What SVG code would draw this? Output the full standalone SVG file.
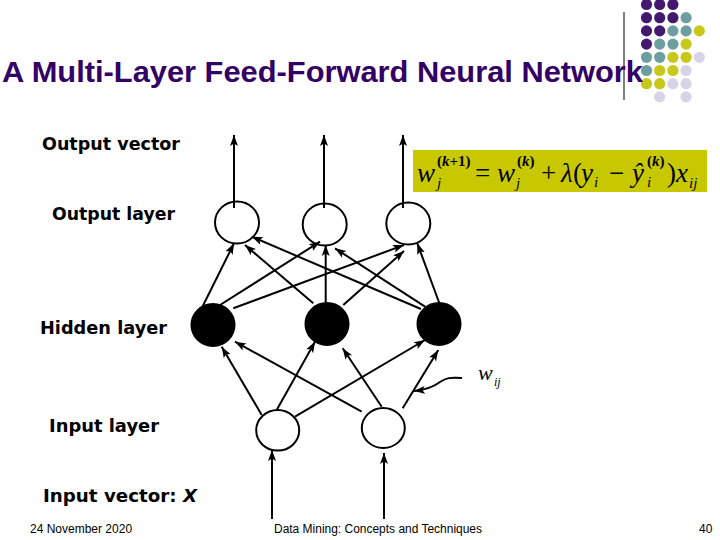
<svg xmlns="http://www.w3.org/2000/svg" width="720" height="540" viewBox="0 0 720 540">
<style>
.lbl{font-family:"DejaVu Sans",Verdana,sans-serif;font-weight:bold;font-size:17px;fill:#000}
.ft{font-family:"Liberation Sans",Arial,sans-serif;font-size:12px;fill:#000}
.fm{font-family:"Liberation Serif","Times New Roman",serif;font-size:27px;fill:#000}
.it{font-style:italic}
.sup{font-family:"Liberation Serif","Times New Roman",serif;font-size:15px;font-weight:bold;fill:#000}
.sub{font-family:"Liberation Serif","Times New Roman",serif;font-size:15px;font-style:italic;fill:#000}
.wn{fill:#fff;stroke:#000;stroke-width:2}
.bn{fill:#000;stroke:#000;stroke-width:2}
.cn line,.cn path{stroke:#000;stroke-width:2;fill:none;marker-end:url(#ah)}
.P{fill:#451870}.T{fill:#6d9fa0}.Y{fill:#c8c81c}.L{fill:#d5d5e7}
</style>
<defs>
<marker id="ah" markerUnits="userSpaceOnUse" markerWidth="12" markerHeight="10" viewBox="0 0 12 10" refX="11" refY="5" orient="auto">
<path d="M0,1 L11,5 L0,9 L2.5,5 Z" fill="#000"/>
</marker>
</defs>
<rect width="720" height="540" fill="#fff"/>
<g id="dots">
<circle class="P" cx="646.5" cy="4.5" r="5.6"/><circle class="P" cx="659.7" cy="4.5" r="5.6"/><circle class="P" cx="672.9" cy="4.5" r="5.6"/>
<circle class="P" cx="646.5" cy="17.7" r="5.6"/><circle class="P" cx="659.7" cy="17.7" r="5.6"/><circle class="P" cx="672.9" cy="17.7" r="5.6"/><circle class="T" cx="686.1" cy="17.7" r="5.6"/>
<circle class="P" cx="646.5" cy="30.9" r="5.6"/><circle class="P" cx="659.7" cy="30.9" r="5.6"/><circle class="T" cx="672.9" cy="30.9" r="5.6"/><circle class="T" cx="686.1" cy="30.9" r="5.6"/><circle class="Y" cx="699.3" cy="30.9" r="5.6"/>
<circle class="P" cx="646.5" cy="44.1" r="5.6"/><circle class="T" cx="659.7" cy="44.1" r="5.6"/><circle class="T" cx="672.9" cy="44.1" r="5.6"/><circle class="Y" cx="686.1" cy="44.1" r="5.6"/>
<circle class="T" cx="646.5" cy="57.3" r="5.6"/><circle class="T" cx="659.7" cy="57.3" r="5.6"/><circle class="Y" cx="672.9" cy="57.3" r="5.6"/><circle class="Y" cx="686.1" cy="57.3" r="5.6"/><circle class="L" cx="699.3" cy="57.3" r="5.6"/>
<circle class="T" cx="646.5" cy="70.5" r="5.6"/><circle class="Y" cx="659.7" cy="70.5" r="5.6"/><circle class="Y" cx="672.9" cy="70.5" r="5.6"/><circle class="L" cx="686.1" cy="70.5" r="5.6"/>
<circle class="Y" cx="646.5" cy="83.7" r="5.6"/><circle class="Y" cx="659.7" cy="83.7" r="5.6"/><circle class="L" cx="672.9" cy="83.7" r="5.6"/><circle class="L" cx="686.1" cy="83.7" r="5.6"/>
<circle class="L" cx="659.7" cy="96.9" r="5.6"/><circle class="L" cx="686.1" cy="96.9" r="5.6"/>
</g>
<line x1="624" y1="12" x2="624" y2="100" stroke="#000" stroke-width="1"/>
<text x="2" y="82" font-family="Liberation Sans,Arial,sans-serif" font-weight="bold" font-size="30" fill="#330066" textLength="641" lengthAdjust="spacingAndGlyphs">A Multi-Layer Feed-Forward Neural Network</text>

<g id="formula">
<rect x="413" y="150" width="294" height="42" fill="#c8c800"/>
<text class="fm it" x="417" y="182">w</text>
<text class="sup" x="437" y="166">(<tspan font-style="italic">k</tspan>+1)</text>
<text class="sub" x="437" y="188">j</text>
<text class="fm" x="475" y="182">=</text>
<text class="fm it" x="497" y="182">w</text>
<text class="sup" x="517" y="166">(<tspan font-style="italic">k</tspan>)</text>
<text class="sub" x="516" y="188">j</text>
<text class="fm" x="541" y="182">+</text>
<text class="fm it" x="561" y="182">λ</text>
<text class="fm" x="573" y="182">(</text>
<text class="fm it" x="581" y="182">y</text>
<text class="sub" x="594" y="187">i</text>
<text class="fm" x="609" y="182">−</text>
<text class="fm it" x="632" y="182">ŷ</text>
<text class="sup" x="647" y="166">(<tspan font-style="italic">k</tspan>)</text>
<text class="sub" x="647" y="187">i</text>
<text class="fm" x="667" y="182">)</text>
<text class="fm it" x="676" y="182">x</text>
<text class="sub" x="689" y="188">ij</text>
</g>

<g id="labels">
<text class="lbl" x="42" y="150" textLength="138" lengthAdjust="spacingAndGlyphs">Output vector</text>
<text class="lbl" x="52" y="220" textLength="123" lengthAdjust="spacingAndGlyphs">Output layer</text>
<text class="lbl" x="40" y="334" textLength="127" lengthAdjust="spacingAndGlyphs">Hidden layer</text>
<text class="lbl" x="49" y="432" textLength="110" lengthAdjust="spacingAndGlyphs">Input layer</text>
<text class="lbl" x="43" y="502" textLength="154" lengthAdjust="spacingAndGlyphs">Input vector: <tspan font-style="italic">X</tspan></text>
</g>

<g id="output-nodes">
<ellipse id="o1" class="wn" cx="237" cy="222.5" rx="22" ry="21"/>
<ellipse id="o2" class="wn" cx="324.7" cy="224.5" rx="22" ry="21"/>
<ellipse id="o3" class="wn" cx="408.3" cy="223.5" rx="22" ry="21"/>
</g>
<g id="hidden-nodes">
<ellipse id="h1" class="bn" cx="213" cy="325" rx="21.5" ry="21"/>
<ellipse id="h2" class="bn" cx="327" cy="324" rx="21.5" ry="21"/>
<ellipse id="h3" class="bn" cx="439" cy="324" rx="21.5" ry="21"/>
</g>
<g id="input-nodes">
<ellipse id="i1" class="wn" cx="277.7" cy="430.3" rx="21.5" ry="20.3"/>
<ellipse id="i2" class="wn" cx="383.3" cy="428" rx="21.5" ry="20"/>
</g>

<g id="connectors" class="cn">
<line x1="234" y1="208" x2="234" y2="135"/>
<line x1="324" y1="208" x2="324" y2="135"/>
<line x1="403" y1="208" x2="403" y2="135"/>
<line x1="201.7" y1="308.3" x2="234" y2="243.3"/>
<line x1="220" y1="305" x2="320" y2="241.7"/>
<line x1="233.3" y1="308.3" x2="404" y2="245"/>
<line x1="313.3" y1="303.3" x2="245" y2="245"/>
<line x1="325.7" y1="302.3" x2="325.7" y2="245"/>
<line x1="343.3" y1="305" x2="404" y2="251"/>
<line x1="421" y1="309" x2="251.7" y2="236.7"/>
<line x1="425" y1="306.7" x2="335" y2="248.3"/>
<line x1="440" y1="305" x2="417.3" y2="243.3"/>
<line x1="261.7" y1="415" x2="221.7" y2="346.7"/>
<line x1="276.7" y1="410" x2="315" y2="341.7"/>
<line x1="295" y1="416.7" x2="425" y2="340"/>
<line x1="361.7" y1="411.7" x2="235" y2="341.7"/>
<line x1="381.7" y1="406.7" x2="342.7" y2="348.3"/>
<line x1="402.7" y1="408.3" x2="438.3" y2="350"/>
<line x1="272" y1="519" x2="272" y2="450"/>
<line x1="384" y1="519" x2="384" y2="453"/>
<path d="M462,378 C450,377 446,378 440,382 C432,388 424,390 414,391"/>
</g>
<g id="wij">
<text x="478" y="380" font-family="Liberation Serif,Times New Roman,serif" font-style="italic" font-size="22">w</text>
<text x="494" y="386" font-family="Liberation Serif,Times New Roman,serif" font-style="italic" font-size="12">ij</text>
</g>

<g id="footer">
<text class="ft" x="30" y="533">24 November 2020</text>
<text class="ft" x="274" y="533" textLength="208" lengthAdjust="spacingAndGlyphs">Data Mining: Concepts and Techniques</text>
<text class="ft" x="699" y="533">40</text>
</g>
</svg>
